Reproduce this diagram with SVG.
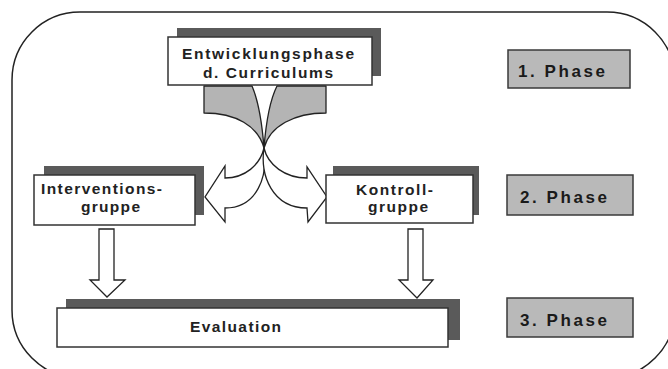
<svg xmlns="http://www.w3.org/2000/svg" width="668" height="369" viewBox="0 0 668 369">
<style>
.shadow{fill:#5a5a5a;}
.box{fill:#ffffff;stroke:#333333;stroke-width:1.5;}
.phase{fill:#b9b9b9;stroke:#3a3a3a;stroke-width:1.5;}
.t{font-family:"Liberation Sans",Arial,sans-serif;font-weight:bold;font-size:15.5px;fill:#222222;}
.pt{font-family:"Liberation Sans",Arial,sans-serif;font-weight:bold;font-size:17px;fill:#1a1a1a;}
.wing{fill:#b4b4b4;stroke:#222222;stroke-width:1.3;stroke-linejoin:round;}
.arr{fill:#ffffff;stroke:#222222;stroke-width:1.3;stroke-linejoin:miter;}
</style>
<rect x="0" y="0" width="668" height="369" fill="#ffffff"/>
<rect x="12" y="12" width="663" height="366" rx="68" ry="68" fill="none" stroke="#222222" stroke-width="1.5"/>

<g id="connectors">
  <path class="wing" d="M204,86 L204,113 C236,113 258,126 264,148 C262,122 258,100 252,86 Z"/>
  <path class="wing" d="M326,86 L326,113 C294,113 270,126 264,148 C266,122 270,100 277,86 Z"/>
  <path class="arr" d="M264,148 C260,165 245,178 225,178 L225,166 L205,197 L225,222 L225,208 C258,208 268,175 264,148 Z"/>
  <path class="arr" d="M264,148 C268,165 285,178 307,178 L307,167 L327,197 L308,222 L307,208 C272,208 260,175 264,148 Z"/>
  <path class="arr" d="M99,229 L114,229 L114,280 L125,280 L107,297 L90,280 L99,280 Z"/>
  <path class="arr" d="M408,229 L423,229 L423,280 L433,280 L417,298 L399,280 L408,280 Z"/>
</g>

<g id="node-entwicklung">
  <rect class="shadow" x="177" y="28" width="204" height="48"/>
  <rect class="box" x="168" y="37" width="204" height="48"/>
  <text class="t" x="182" y="59" textLength="172" lengthAdjust="spacing">Entwicklungsphase</text>
  <text class="t" x="203" y="78" textLength="130" lengthAdjust="spacing">d. Curriculums</text>
</g>

<g id="node-interventions">
  <rect class="shadow" x="44" y="166" width="160" height="49"/>
  <rect class="box" x="34" y="175" width="161" height="50"/>
  <text class="t" x="41" y="194" textLength="121" lengthAdjust="spacing">Interventions-</text>
  <text class="t" x="81" y="212" textLength="59" lengthAdjust="spacing">gruppe</text>
</g>

<g id="node-kontroll">
  <rect class="shadow" x="333" y="166" width="146" height="49"/>
  <rect class="box" x="326" y="175" width="147" height="48"/>
  <text class="t" x="356" y="195" textLength="77" lengthAdjust="spacing">Kontroll-</text>
  <text class="t" x="368" y="212" textLength="60" lengthAdjust="spacing">gruppe</text>
</g>

<g id="node-evaluation">
  <rect class="shadow" x="66" y="299" width="394" height="41"/>
  <rect class="box" x="57" y="308" width="391" height="39"/>
  <text class="t" x="190" y="332" textLength="91" lengthAdjust="spacing">Evaluation</text>
</g>

<g id="phase-1">
  <rect class="phase" x="508" y="50" width="122" height="38"/>
  <text class="pt" x="518" y="77" textLength="87" lengthAdjust="spacing">1. Phase</text>
</g>
<g id="phase-2">
  <rect class="phase" x="507" y="175" width="126" height="40"/>
  <text class="pt" x="520" y="203" textLength="87" lengthAdjust="spacing">2. Phase</text>
</g>
<g id="phase-3">
  <rect class="phase" x="507" y="298" width="126" height="39"/>
  <text class="pt" x="520" y="326" textLength="87" lengthAdjust="spacing">3. Phase</text>
</g>
</svg>
